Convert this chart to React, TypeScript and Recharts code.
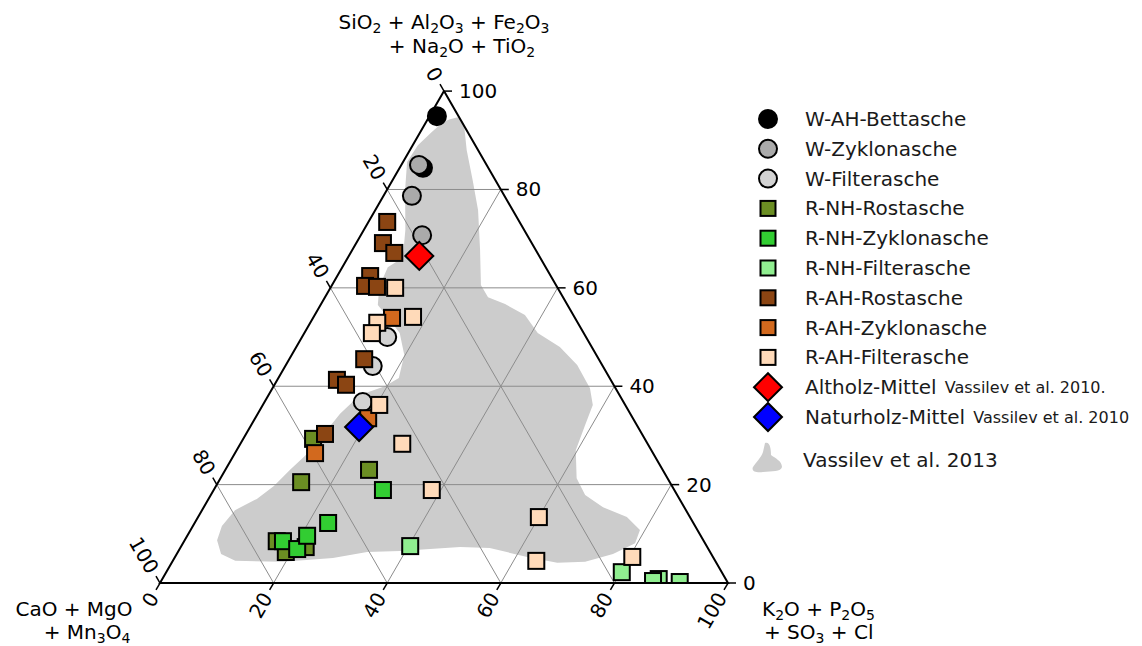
import React from 'react';
import { ScatterChart, Scatter, XAxis, YAxis } from 'recharts';

// ternary pairs: [SiO2+Al2O3+Fe2O3+Na2O+TiO2 %, K2O+P2O5+SO3+Cl %]; CaO+MgO+Mn3O4 is the rest
type T = [number, number];

const wAhBett: T[] = [[94.9, 1.3], [84.4, 4.1]];
const wZyklon: T[] = [[85.0, 3.1], [78.7, 5.0], [70.7, 10.8]];
const wFilter: T[] = [[50.0, 15.0], [44.1, 15.4], [36.8, 17.3]];
const rNhRost: T[] = [[29.3, 12.3], [20.5, 14.6], [23.0, 25.3], [8.5, 16.3], [6.3, 19.0], [7.3, 22.0]];
const rNhZyklon: T[] = [[8.5, 17.4], [6.9, 20.7], [9.6, 21.1], [12.2, 23.5], [18.9, 29.8]];
const rNhFilter: T[] = [[7.5, 40.3], [2.2, 80.2], [0.8, 87.4], [0.4, 86.6], [0.2, 91.4]];
const rAhRost: T[] = [
  [73.4, 3.3], [69.1, 4.7], [67.1, 7.7], [62.4, 5.8], [60.4, 5.9],
  [60.2, 8.1], [45.5, 13.2], [41.3, 10.5], [40.3, 12.6], [30.3, 13.9],
];
const rAhZyklon: T[] = [[53.9, 13.9], [33.5, 19.9], [26.4, 14.1]];
const rAhFilter: T[] = [
  [60.0, 11.4], [54.1, 17.5], [52.9, 11.8], [50.8, 11.9], [36.2, 20.5],
  [28.3, 28.5], [18.9, 38.4], [13.4, 60.0], [4.5, 64.0], [5.3, 80.5],
];
const altholz: T[] = [[66.5, 12.4]];
const naturholz: T[] = [[31.7, 19.2]];

// outline of the Vassilev et al. 2013 field
const vassilev2013: T[] = [
  [94.3, 3.9], [94.7, 5.1], [92.9, 7.1], [88.0, 10.0], [81.9, 14.1], [75.8, 18.1],
  [67.7, 22.5], [60.6, 26.2], [58.1, 28.7], [56.7, 32.4], [54.5, 37.0], [50.8, 41.1],
  [48.0, 46.4], [44.3, 51.3], [39.6, 55.9], [36.2, 58.1], [32.1, 58.8], [27.0, 59.7],
  [21.3, 62.7], [17.9, 65.9], [15.4, 70.3], [13.4, 75.5], [10.8, 79.1], [8.1, 79.6],
  [5.9, 76.8], [4.3, 72.7], [4.1, 67.9], [5.3, 62.0], [7.1, 54.5], [7.3, 49.2],
  [6.9, 44.1], [6.5, 39.0], [6.3, 33.3], [5.1, 27.9], [4.3, 19.5], [4.5, 11.0],
  [5.9, 7.8], [8.7, 5.7], [11.6, 5.1], [14.8, 5.8], [17.1, 8.5], [19.7, 10.2],
  [23.0, 11.4], [25.8, 12.6], [29.9, 13.6], [34.4, 14.5], [38.2, 16.1], [40.0, 19.6],
  [41.7, 21.2], [46.4, 19.8], [50.8, 16.8], [53.9, 13.2], [56.5, 10.1], [60.2, 8.5],
  [64.2, 8.0], [66.1, 9.7], [71.8, 7.3], [79.9, 3.2], [85.6, 0.7], [89.0, 0.9],
  [91.7, 2.0], [93.7, 3.0],
];

const tickValues = [0, 20, 40, 60, 80, 100];
const gridValues = [20, 40, 60, 80];

const H = Math.sqrt(3) / 2;
const S = 5.68; // px per unit
const W = 1142;
const HT = 646;
const X0 = 160;
const Y0 = 583;
const xDomain = [-X0 / S, (W - X0) / S];
const yDomain = [-(HT - Y0) / S, Y0 / S];
const FONT = '"DejaVu Sans", Verdana, sans-serif';

const pt = (a: number, c: number) => ({ x: c + a / 2, y: a * H });
const toXY = (pts: T[]) => pts.map(([a, c]) => pt(a, c));

const gridLines: T[][] = gridValues.flatMap((v) => [
  [[v, 0], [v, 100 - v]] as T[],
  [[0, v], [100 - v, v]] as T[],
  [[0, 100 - v], [100 - v, 0]] as T[],
]);
const frame: T[] = [[100, 0], [0, 0], [0, 100], [100, 0]];

const rightLabels = tickValues.map((v) => ({ ...pt(v, 100 - v), label: v }));
const leftLabels = tickValues.map((v) => ({ ...pt(100 - v, 0), label: v }));
const bottomLabels = tickValues.map((v) => ({ ...pt(0, v), label: v }));

const none = () => <g />;

const circle = (fill: string) => (p: any) => (
  <circle cx={p.cx} cy={p.cy} r={9} fill={fill} stroke="#000" strokeWidth={2} />
);
// markers are cut at the bottom axis, like in the original plot
const square = (fill: string) => (p: any) => {
  const bottom = Math.min(p.cy + 8, Y0);
  return (
    <rect x={p.cx - 8} y={p.cy - 8} width={16} height={bottom - (p.cy - 8)} fill={fill} stroke="#000" strokeWidth={2} />
  );
};
const diamond = (fill: string) => (p: any) => (
  <polygon
    points={`${p.cx},${p.cy - 14} ${p.cx + 14},${p.cy} ${p.cx},${p.cy + 14} ${p.cx - 14},${p.cy}`}
    fill={fill}
    stroke="#000"
    strokeWidth={2}
  />
);

const rightLabel = (p: any) => (
  <g>
    <line x1={p.cx} y1={p.cy} x2={p.cx + 8} y2={p.cy} stroke="#000" strokeWidth={1.5} />
    <text x={p.cx + 15} y={p.cy} dominantBaseline="central" fontSize={20} fontFamily={FONT} fill="#000">
      {p.payload.label}
    </text>
  </g>
);
const leftLabel = (p: any) => {
  const ex = p.cx - 0.5 * 13;
  const ey = p.cy - H * 13;
  return (
    <g>
      <line x1={p.cx} y1={p.cy} x2={p.cx - 4} y2={p.cy - H * 8} stroke="#000" strokeWidth={1.5} />
      <text x={ex} y={ey} textAnchor="end" dominantBaseline="central" fontSize={20} fontFamily={FONT}
        transform={`rotate(60 ${ex} ${ey})`} fill="#000">
        {p.payload.label}
      </text>
    </g>
  );
};
const bottomLabel = (p: any) => {
  const ex = p.cx - 0.5 * 13;
  const ey = p.cy + H * 13;
  return (
    <g>
      <line x1={p.cx} y1={p.cy} x2={p.cx - 4} y2={p.cy + H * 8} stroke="#000" strokeWidth={1.5} />
      <text x={ex} y={ey} textAnchor="end" dominantBaseline="central" fontSize={20} fontFamily={FONT}
        transform={`rotate(-60 ${ex} ${ey})`} fill="#000">
        {p.payload.label}
      </text>
    </g>
  );
};

// digits following a letter become subscripts
const chem = (s: string) => {
  const parts = s.split(/(?<=[A-Za-z])(\d+)/);
  const out: React.ReactNode[] = [];
  let sub = false;
  parts.forEach((t, i) => {
    if (!t) return;
    if (i % 2 === 1) {
      out.push(<tspan key={i} dy={4} fontSize={14}>{t}</tspan>);
      sub = true;
    } else {
      out.push(<tspan key={i} dy={sub ? -4 : 0}>{t}</tspan>);
      sub = false;
    }
  });
  return out;
};

const legendItems = [
  { label: 'W-AH-Bettasche', kind: 'c', fill: '#000000' },
  { label: 'W-Zyklonasche', kind: 'c', fill: '#aaaaaa' },
  { label: 'W-Filterasche', kind: 'c', fill: '#d3d3d3' },
  { label: 'R-NH-Rostasche', kind: 's', fill: '#6b8e23' },
  { label: 'R-NH-Zyklonasche', kind: 's', fill: '#32cd32' },
  { label: 'R-NH-Filterasche', kind: 's', fill: '#90ee90' },
  { label: 'R-AH-Rostasche', kind: 's', fill: '#8b4513' },
  { label: 'R-AH-Zyklonasche', kind: 's', fill: '#d2691e' },
  { label: 'R-AH-Filterasche', kind: 's', fill: '#ffdab9' },
  { label: 'Altholz-Mittel', small: 'Vassilev et al. 2010.', kind: 'd', fill: '#ff0000' },
  { label: 'Naturholz-Mittel', small: 'Vassilev et al. 2010', kind: 'd', fill: '#0000ff' },
];

const Overlay = () => (
  <svg width={W} height={HT} style={{ position: 'absolute', left: 0, top: 0, pointerEvents: 'none' }}>
    <g fontFamily={FONT} fontSize={20} fill="#000">
      <text x={444} y={29} textAnchor="middle">{chem('SiO2 + Al2O3 + Fe2O3')}</text>
      <text x={462} y={53} textAnchor="middle">{chem('+ Na2O + TiO2')}</text>
      <text x={74} y={616} textAnchor="middle">{chem('CaO + MgO')}</text>
      <text x={87} y={639} textAnchor="middle">{chem('+ Mn3O4')}</text>
      <text x={762} y={616}>{chem('K2O + P2O5')}</text>
      <text x={764} y={639}>{chem('+ SO3 + Cl')}</text>
    </g>
    {legendItems.map((it, i) => {
      const y = 119 + 29.8 * i;
      const x = 768;
      let sym;
      if (it.kind === 'c') sym = <circle cx={x} cy={y} r={9} fill={it.fill} stroke="#000" strokeWidth={2} />;
      else if (it.kind === 's')
        sym = <rect x={x - 7.5} y={y - 7.5} width={15} height={15} fill={it.fill} stroke="#000" strokeWidth={2} />;
      else
        sym = (
          <polygon points={`${x},${y - 14} ${x + 14},${y} ${x},${y + 14} ${x - 14},${y}`} fill={it.fill}
            stroke="#000" strokeWidth={2} />
        );
      return (
        <g key={it.label}>
          {sym}
          <text x={805} y={y} dominantBaseline="central" fontFamily={FONT} fontSize={20} fill="#1a1a1a">
            {it.label}
            {it.small && <tspan fontSize={16} dx={3}>{' ' + it.small}</tspan>}
          </text>
        </g>
      );
    })}
    <path
      d="M765,443 C770,441 771,449 771,455 C775,458 782,461 782,467 C781,472 772,471 763,472 C756,473 751,471 753,467 C756,462 761,458 763,452 Z"
      fill="#cccccc"
    />
    <text x={803} y={460} dominantBaseline="central" fontFamily={FONT} fontSize={20} fill="#1a1a1a">
      Vassilev et al. 2013
    </text>
  </svg>
);

const App = () => {
  return (
    <div style={{ position: 'absolute', left: 0, top: 0, width: W, height: HT, background: '#fff' }}>
      <ScatterChart width={W} height={HT} margin={{ top: 0, right: 0, bottom: 0, left: 0 }}>
        <XAxis type="number" dataKey="x" domain={xDomain} allowDataOverflow hide />
        <YAxis type="number" dataKey="y" domain={yDomain} allowDataOverflow hide />

        <Scatter data={toXY(vassilev2013)} shape={none} line={{ fill: '#cccccc', stroke: 'none' }}
          lineJointType="linearClosed" isAnimationActive={false} />

        {gridLines.map((g, i) => (
          <Scatter key={`g${i}`} data={toXY(g)} shape={none} line={{ stroke: '#8c8c8c', strokeWidth: 1 }}
            isAnimationActive={false} />
        ))}
        <Scatter data={toXY(frame)} shape={none} line={{ stroke: '#000', strokeWidth: 2, fill: 'none' }}
          isAnimationActive={false} />

        <Scatter data={rightLabels} shape={rightLabel} isAnimationActive={false} />
        <Scatter data={leftLabels} shape={leftLabel} isAnimationActive={false} />
        <Scatter data={bottomLabels} shape={bottomLabel} isAnimationActive={false} />

        <Scatter name="W-AH-Bettasche" data={toXY(wAhBett)} shape={circle('#000000')} isAnimationActive={false} />
        <Scatter name="W-Zyklonasche" data={toXY(wZyklon)} shape={circle('#aaaaaa')} isAnimationActive={false} />
        <Scatter name="W-Filterasche" data={toXY(wFilter)} shape={circle('#d3d3d3')} isAnimationActive={false} />
        <Scatter name="R-NH-Rostasche" data={toXY(rNhRost)} shape={square('#6b8e23')} isAnimationActive={false} />
        <Scatter name="R-NH-Zyklonasche" data={toXY(rNhZyklon)} shape={square('#32cd32')} isAnimationActive={false} />
        <Scatter name="R-NH-Filterasche" data={toXY(rNhFilter)} shape={square('#90ee90')} isAnimationActive={false} />
        <Scatter name="R-AH-Rostasche" data={toXY(rAhRost)} shape={square('#8b4513')} isAnimationActive={false} />
        <Scatter name="R-AH-Zyklonasche" data={toXY(rAhZyklon)} shape={square('#d2691e')} isAnimationActive={false} />
        <Scatter name="R-AH-Filterasche" data={toXY(rAhFilter)} shape={square('#ffdab9')} isAnimationActive={false} />
        <Scatter name="Altholz-Mittel" data={toXY(altholz)} shape={diamond('#ff0000')} isAnimationActive={false} />
        <Scatter name="Naturholz-Mittel" data={toXY(naturholz)} shape={diamond('#0000ff')} isAnimationActive={false} />
      </ScatterChart>
      <Overlay />
    </div>
  );
};

export default App;
